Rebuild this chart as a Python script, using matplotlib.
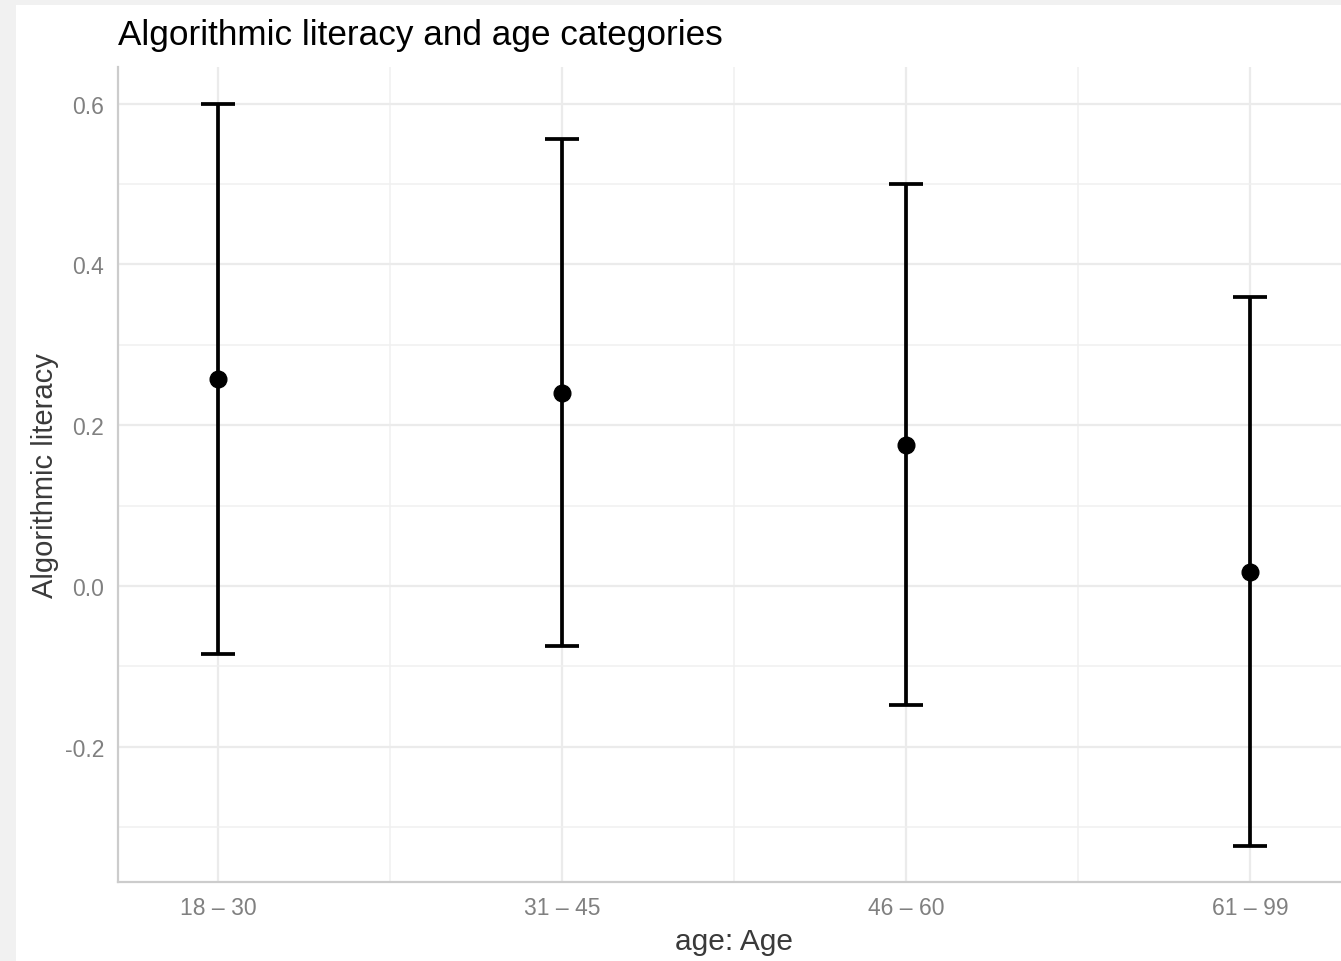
import matplotlib
matplotlib.use("Agg")
import matplotlib.pyplot as plt
from matplotlib.patches import Rectangle
import numpy as np

# data
age_groups = ['18 – 30', '31 – 45', '46 – 60', '61 – 99']
estimate = [0.257, 0.240, 0.175, 0.017]
ci_low = [-0.085, -0.075, -0.148, -0.323]
ci_high = [0.600, 0.556, 0.500, 0.359]
y_ticks = [-0.2, 0.0, 0.2, 0.4, 0.6]

plt.rcParams['font.family'] = ['Liberation Sans', 'DejaVu Sans']

fig = plt.figure(figsize=(13.41, 9.62), dpi=100)
fig.patch.set_facecolor('#f1f1f1')
# white card on top of the light screenshot shadow
fig.patches.append(Rectangle((16 / 1341, 0), 1, (962 - 6) / 962,
                             transform=fig.transFigure, facecolor='white',
                             edgecolor='none', zorder=-10))

# panel runs a little past the right edge of the screenshot
ax = fig.add_axes([118 / 1341, 79 / 962, (1350 - 118) / 1341, (883 - 68) / 962])
ax.set_facecolor('white')

x = np.arange(len(age_groups))
est = np.array(estimate)
yerr = [est - np.array(ci_low), np.array(ci_high) - est]
ax.errorbar(x, est, yerr=yerr, fmt='o', color='black', ecolor='black',
            elinewidth=2.7, capsize=12, capthick=2.7, markersize=12, zorder=3)

ax.set_xlim(-0.2907, 3.2907)
ax.set_ylim(-0.3683, 0.6457)
ax.set_xticks(x)
ax.set_xticklabels(age_groups)
ax.set_yticks(y_ticks)
ax.set_yticklabels(['%.1f' % v for v in y_ticks])
ax.set_xticks([0.5, 1.5, 2.5], minor=True)
ax.set_yticks([-0.3, -0.1, 0.1, 0.3, 0.5], minor=True)

ax.grid(True, which='major', color='#ebebeb', linewidth=1.6)
ax.grid(True, which='minor', color='#f0f0f0', linewidth=1.1)
ax.set_axisbelow(True)

ax.tick_params(axis='both', which='both', length=0, labelsize=16.5,
               labelcolor='#808080', pad=10)

for side in ['top', 'right']:
    ax.spines[side].set_visible(False)
for side in ['left', 'bottom']:
    ax.spines[side].set_color('#cccccc')
    ax.spines[side].set_linewidth(1.6)

ax.set_xlabel('age: Age', fontsize=21.5, color='#3a3a3a', labelpad=6)
ax.set_ylabel('Algorithmic literacy', fontsize=21, color='#3a3a3a', labelpad=4)
fig.text(118 / 1341, 1 - 35 / 962, 'Algorithmic literacy and age categories',
         fontsize=25.3, color='black', ha='left', va='center')

fig.savefig('out.png', dpi=100, facecolor=fig.get_facecolor())
